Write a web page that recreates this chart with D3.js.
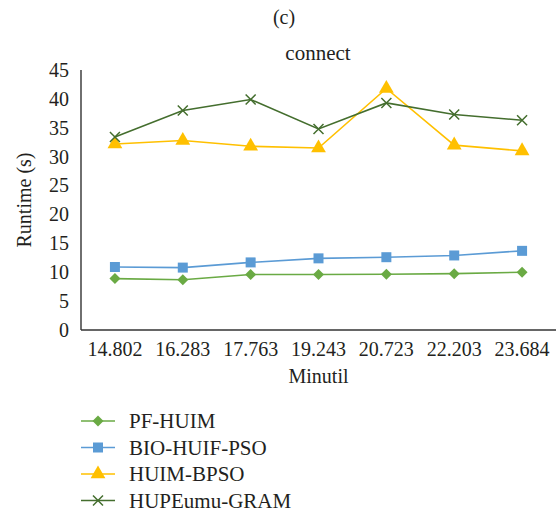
<!DOCTYPE html>
<html>
<head>
<meta charset="utf-8">
<script src="https://cdn.jsdelivr.net/npm/d3@7"></script>
<style>
  body { margin: 0; background: #fff; }
  svg text { font-family: "Liberation Serif", "DejaVu Serif", serif; fill: #231f20; }
</style>
</head>
<body>
<div id="chart"></div>
<script>

// data
var categories = ["14.802", "16.283", "17.763", "19.243", "20.723", "22.203", "23.684"];
var pfHuim = [8.9, 8.7, 9.6, 9.6, 9.65, 9.75, 10.0];
var bioHuifPso = [10.9, 10.8, 11.7, 12.4, 12.6, 12.9, 13.7];
var huimBpso = [32.2, 32.8, 31.8, 31.5, 41.8, 32.0, 31.0];
var hupeumuGram = [33.4, 38.0, 39.9, 34.8, 39.3, 37.3, 36.3];
var yTicks = [0, 5, 10, 15, 20, 25, 30, 35, 40, 45];

var series = [
    {name: "PF-HUIM", values: pfHuim, color: "#6aaa44", marker: "diamond"},
    {name: "BIO-HUIF-PSO", values: bioHuifPso, color: "#5b9bd5", marker: "square"},
    {name: "HUIM-BPSO", values: huimBpso, color: "#ffc000", marker: "triangle"},
    {name: "HUPEumu-GRAM", values: hupeumuGram, color: "#446e2e", marker: "cross"}
];

var width = 559, height = 513;
var margin = {top: 70, left: 81, right: 3, bottom: 183};
var plotW = width - margin.left - margin.right,
    plotH = height - margin.top - margin.bottom;

var svg = d3.select("#chart").append("svg")
    .attr("width", width)
    .attr("height", height);

var x = d3.scaleBand()
    .domain(categories)
    .range([0, plotW]);

var y = d3.scaleLinear()
    .domain([0, 45])
    .range([plotH, 0]);

var g = svg.append("g")
    .attr("transform", "translate(" + margin.left + "," + margin.top + ")");

// titles
svg.append("text")
    .attr("x", 284).attr("y", 24)
    .attr("text-anchor", "middle")
    .style("font-size", "20px")
    .text("(c)");

svg.append("text")
    .attr("x", 318).attr("y", 60)
    .attr("text-anchor", "middle")
    .style("font-size", "21px")
    .text("connect");

// y axis
var yAxis = g.append("g")
    .call(d3.axisLeft(y).tickValues(yTicks).tickSize(5).tickPadding(7));
yAxis.selectAll("text").style("font-size", "20px");
yAxis.selectAll("line, path").attr("stroke", "#333").attr("stroke-width", 1.4);
yAxis.select(".domain").attr("d", "M0," + plotH + "V0");
yAxis.selectAll(".tick line").attr("x1", -5);

// x axis
var xAxis = g.append("g")
    .attr("transform", "translate(0," + plotH + ")")
    .call(d3.axisBottom(x).tickSize(0).tickPadding(12));
xAxis.selectAll("text").style("font-size", "20px");
xAxis.select(".domain").attr("stroke", "#333").attr("stroke-width", 1.4)
    .attr("d", "M0,0H" + plotW);

// axis labels
svg.append("text")
    .attr("transform", "translate(31," + (margin.top + plotH / 2) + ") rotate(-90)")
    .attr("text-anchor", "middle")
    .style("font-size", "20px")
    .text("Runtime (s)");

svg.append("text")
    .attr("x", margin.left + plotW / 2).attr("y", 383)
    .attr("text-anchor", "middle")
    .style("font-size", "20px")
    .text("Minutil");

function drawMarker(sel, type, color) {
    if (type === "cross") {
        sel.append("path")
            .attr("d", "M-5,-5L5,5M-5,5L5,-5")
            .attr("stroke", color).attr("stroke-width", 1.5).attr("fill", "none");
    } else if (type === "diamond") {
        sel.append("path")
            .attr("d", "M0,-5.5L5.5,0L0,5.5L-5.5,0Z")
            .attr("fill", color);
    } else {
        var sym = {square: d3.symbolSquare, triangle: d3.symbolTriangle}[type];
        var size = {square: 100, triangle: 95}[type];
        sel.append("path")
            .attr("d", d3.symbol().type(sym).size(size))
            .attr("fill", color);
    }
}

var line = d3.line()
    .x(function(d, i) { return x(categories[i]) + x.bandwidth() / 2; })
    .y(function(d) { return y(d); });

series.forEach(function(s) {
    g.append("path")
        .datum(s.values)
        .attr("d", line)
        .attr("fill", "none")
        .attr("stroke", s.color)
        .attr("stroke-width", 1.6);

    s.values.forEach(function(v, i) {
        var m = g.append("g")
            .attr("transform", "translate(" + (x(categories[i]) + x.bandwidth() / 2) + "," + y(v) + ")");
        drawMarker(m, s.marker, s.color);
    });
});

// legend
var legend = svg.append("g").attr("transform", "translate(81,421)");
series.forEach(function(s, i) {
    var row = legend.append("g").attr("transform", "translate(0," + (i * 26.5) + ")");
    row.append("line")
        .attr("x1", 0).attr("x2", 34)
        .attr("stroke", s.color).attr("stroke-width", 1.6);
    var m = row.append("g").attr("transform", "translate(17,0)");
    drawMarker(m, s.marker, s.color);
    row.append("text")
        .attr("x", 48).attr("y", 0).attr("dy", "0.35em")
        .style("font-size", "21px")
        .text(s.name);
});

</script>
</body>
</html>
